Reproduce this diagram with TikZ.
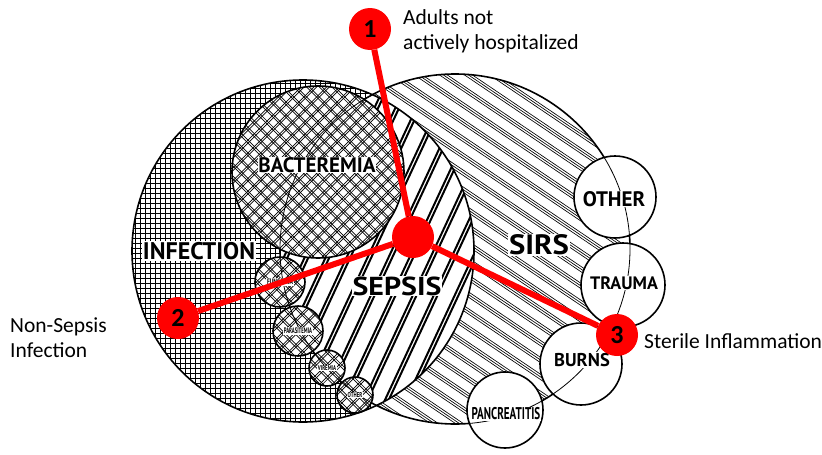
\documentclass[tikz,border=0pt]{standalone}
\usepackage{fontspec}
\usepackage{graphicx}
\setmainfont{Carlito}
\newfontfamily\tagfont{PT Sans}
\newcommand{\tagsize}[1]{\tagfont\bfseries\fontsize{#1}{#1}\selectfont}
\usetikzlibrary{positioning}

\begin{document}
\begin{tikzpicture}[x=1pt, y=-1pt]
    \tikzstyle{outline} = [line width=1.6pt]
    \tikzstyle{thinarc} = [line width=0.8pt]
    \tikzstyle{gridline} = [line width=0.8pt]
    \tikzstyle{sirsline} = [line width=0.65pt]
    \tikzstyle{stripe} = [line width=2pt]
    \tikzstyle{crossline} = [line width=0.7pt]
    \tikzstyle{setname} = [fill=white, inner sep=0.8pt]
    \tikzstyle{marker} = [circle, fill=red, minimum size=42pt, inner sep=0pt, font=\fontsize{26}{26}\selectfont\bfseries]
    \tikzstyle{link} = [red, line width=6pt]
    \tikzstyle{note} = [font=\fontsize{21.5}{25}\selectfont, align=left, inner sep=0pt]

    \useasboundingbox (0,0) rectangle (822,455);

    \begin{scope}
        \clip (455,249) circle (175);
        \fill[white] (455,249) circle (175);
        \begin{scope}[shift={(455,249)}, rotate=-34]
            \foreach \k in {-14,...,14}
                \foreach \d in {0,2.2,4.4}
                    \draw[sirsline] (-200,\k*14+\d) -- (200,\k*14+\d);
        \end{scope}
    \end{scope}

    \begin{scope}
        \clip (303,251) circle (171);
        \fill[white] (303,251) circle (171);
        \foreach \g in {130,135,...,475}
            \draw[gridline] (\g,78) -- (\g,424);
        \foreach \g in {78,83,...,424}
            \draw[gridline] (130,\g) -- (475,\g);
    \end{scope}

    \begin{scope}
        \clip (303,251) circle (171);
        \clip (455,249) circle (175);
        \fill[white] (250,60) rectangle (480,440);
        \begin{scope}[shift={(392,250)}, rotate=65]
            \foreach \k in {-12,...,12}
                \foreach \d in {0,3.4}
                    \draw[stripe] (-220,\k*19+\d) -- (220,\k*19+\d);
        \end{scope}
    \end{scope}

    \draw[outline] (455,249) circle (175);
    \draw[outline] (303,251) circle (171);

    \begin{scope}
        \clip (318,172) circle (86);
        \fill[white] (318,172) circle (86);
        \foreach \a in {45,-45} {
            \begin{scope}[shift={(318,172)}, rotate=\a]
                \foreach \k in {-11,...,11}
                    \foreach \d in {0,2}
                        \draw[crossline] (-100,\k*9+\d) -- (100,\k*9+\d);
            \end{scope}
        }
    \end{scope}
    \draw[outline] (318,172) circle (86);

    \begin{scope}
        \clip (280,282) circle (25) (298,331) circle (25) (327,368) circle (18) (355,395) circle (18);
        \fill[white] (240,250) rectangle (380,420);
        \foreach \a in {45,-45} {
            \begin{scope}[shift={(315,338)}, rotate=\a]
                \foreach \k in {-12,...,12}
                    \foreach \d in {0,2}
                        \draw[crossline] (-110,\k*9+\d) -- (110,\k*9+\d);
            \end{scope}
        }
    \end{scope}
    \foreach \cx/\cy/\r in {280/282/25, 298/331/25, 327/368/18, 355/395/18}
        \draw[outline] (\cx,\cy) circle (\r);

    \foreach \cx/\cy/\r in {615/197/41, 623/285/42, 581/364/41, 505/410/38}
        \fill[white] (\cx,\cy) circle (\r);
    \foreach \cx/\cy/\r in {615/197/41, 623/285/42, 581/364/41, 505/410/38}
        \draw[outline] (\cx,\cy) circle (\r);

    \begin{scope}
        \clip (318,172) circle (86) (280,282) circle (25) (298,331) circle (25) (327,368) circle (18) (355,395) circle (18)
              (615,197) circle (41) (623,285) circle (42) (581,364) circle (41) (505,410) circle (38);
        \draw[thinarc] (455,249) circle (175);
    \end{scope}

    \node[setname, font=\tagsize{24}] (infection) at (199,251) {INFECTION};
    \node[setname, font=\tagsize{21}] (bacteremia) at (317,165) {BACTEREMIA};
    \node[setname, font=\tagsize{26}] (sepsis) at (397,286) {\scalebox{1.15}[1]{SEPSIS}};
    \node[setname, font=\tagsize{28}] (sirs) at (539,245) {\scalebox{1.1}[1]{SIRS}};
    \node[setname, font=\tagsize{21}] (other) at (614,199) {OTHER};
    \node[setname, font=\tagsize{18}] (trauma) at (624,283) {TRAUMA};
    \node[setname, font=\tagsize{18.5}] (burns) at (582,360) {BURNS};
    \node[setname, font=\tagsize{17}] (pancreatitis) at (506,414) {\scalebox{0.65}[1]{PANCREATITIS}};
    \node[setname, font=\tagsize{8}] (fungemia) at (280,282) {\scalebox{0.7}[1]{FUNGEMIA}};
    \node[setname, font=\tagsize{8}] (parasitemia) at (298,331) {\scalebox{0.6}[1]{PARASITEMIA}};
    \node[setname, font=\tagsize{7}] (viremia) at (327,368) {\scalebox{0.7}[1]{VIREMIA}};
    \node[setname, font=\tagsize{7}] (otherinf) at (355,395) {\scalebox{0.7}[1]{OTHER}};

    \node[marker] (hub) at (413,237) {};
    \node[marker] (one) at (370,29) {1};
    \node[marker] (two) at (178,318) {2};
    \node[marker] (three) at (617,335) {3};

    \draw [link] (hub) -- (one);
    \draw [link] (hub) -- (two);
    \draw [link] (hub) -- (three);

    \node[note, anchor=base west] (adults) at (403,49) {Adults not\\actively hospitalized};
    \node[note, anchor=base west] (nonsepsis) at (10,357) {Non-Sepsis\\Infection};
    \node[note, anchor=base west] (sterile) at (644,348) {Sterile Inflammation};
\end{tikzpicture}
\end{document}
